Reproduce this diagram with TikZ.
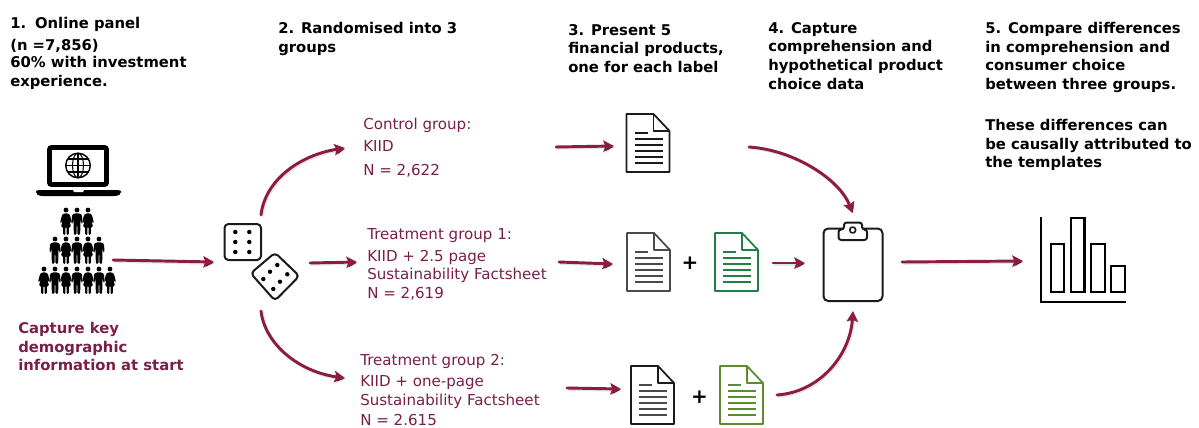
\documentclass[tikz,border=0pt]{standalone}
\usepackage{fontspec}
\setmainfont{DejaVu Sans}
\usetikzlibrary{arrows.meta}
\definecolor{arrowred}{HTML}{8C1C40}
\definecolor{labelred}{HTML}{7A2048}
\definecolor{docgreen}{HTML}{1F7F45}
\definecolor{docolive}{HTML}{5C8C30}
\definecolor{icongrey}{HTML}{1A1A1A}
\definecolor{docgrey}{HTML}{4A4A4A}
\tikzset{
  x=0.75pt,y=-0.75pt,
  heading/.style={anchor=north west,inner sep=0pt,align=left,text=black,font=\fontsize{11.1pt}{14pt}\selectfont\bfseries},
  grouplabel/.style={anchor=north west,inner sep=0pt,align=left,text=labelred,font=\fontsize{11.3pt}{14pt}\selectfont},
  demolabel/.style={heading,text=labelred},
  flow/.style={draw=arrowred,line width=2.2pt,line cap=round,-{Stealth[length=8pt,width=8.5pt,inset=1.5pt]},
    preaction={draw=black,draw opacity=.10,line width=2.6pt,-{Stealth[length=8pt,width=8.5pt,inset=1.5pt]},transform canvas={shift={(.8pt,-.8pt)}}}},
  iconline/.style={draw=icongrey,line width=1.5pt,line join=round},
  pics/docicon/.style 2 args={code={
    \draw[draw=#1,line width=1.3pt,line join=round,fill=white] (0,0) -- (27,0) -- (43,17) -- (43,58) -- (0,58) -- cycle;
    \draw[draw=#1,line width=1.3pt,line join=round] (27,0) -- (27,17) -- (43,17);
    \draw[draw=#2,line width=1.2pt] (8,19) -- (21,19);
    \foreach \ly in {25,31,37,43,49}{\draw[draw=#2,line width=1.2pt] (8,\ly) -- (36,\ly);}
  }},
  pics/manicon/.style={code={
    \fill[black] (0,0) circle[radius=2.4];
    \fill[black,rounded corners=1pt] (-5.5,13) -- (-5,5) -- (-3,3.4) -- (3,3.4) -- (5,5) -- (5.5,13) -- (4.2,13.4) -- (3.4,8) -- (3.2,25) -- (0.5,25) -- (0.4,15) -- (-0.4,15) -- (-0.5,25) -- (-3.2,25) -- (-3.4,8) -- (-4.2,13.4) -- cycle;
  }},
  pics/womanicon/.style={code={
    \fill[black] (0,0) circle[radius=2.4];
    \fill[black,rounded corners=.8pt] (-5.8,12.5) -- (-4,5) -- (-2,3.4) -- (2,3.4) -- (4,5) -- (5.8,12.5) -- (4.7,13) -- (3,8.5) -- (5,17) -- (2.8,17) -- (2.8,25) -- (0.6,25) -- (0.6,17) -- (-0.6,17) -- (-0.6,25) -- (-2.8,25) -- (-2.8,17) -- (-5,17) -- (-3,8.5) -- (-4.7,13) -- cycle;
  }},
  pip/.style={fill=black}
}
\begin{document}
\begin{tikzpicture}
\useasboundingbox[fill=white] (0,0) rectangle (1199,428);

% headings
\node[heading] (h1) at (10,17) {1.\hspace{0.6em}Online panel\\[2.5pt](n =7,856)\\[-1pt]60\% with investment\\[0pt]experience.};
\node[heading] (h2) at (278,22) {2. Randomised into 3\\groups};
\node[heading] (h3) at (568,24) {3. Present 5\\financial products,\\one for each label};
\node[heading] (h4) at (768,22) {4. Capture\\comprehension and\\hypothetical product\\choice data};
\node[heading] (h5) at (985,22) {5. Compare differences\\in comprehension and\\consumer choice\\between three groups.};
\node[heading] (h6) at (985,119) {These differences can\\be causally attributed to\\the templates};
\node[demolabel] (demo) at (18,322) {Capture key\\demographic\\information at start};

% group labels
\node[grouplabel] (g0) at (363,118) {Control group:\\[2.5pt]KIID\\[4pt]N = 2,622};
\node[grouplabel] (g1) at (367,228) {Treatment group 1:\\[2.5pt]KIID + 2.5 page\\Sustainability Factsheet\\N = 2,619};
\node[grouplabel] (g2) at (360,354) {Treatment group 2:\\[2pt]KIID + one-page\\Sustainability Factsheet\\[1pt]N = 2.615};

% laptop
\draw[black,line width=3.6pt,rounded corners=1.5pt] (49.5,147.5) rectangle (106.5,184.5);
\fill[black,rounded corners=2pt] (36,190) -- (121,190) -- (121,193) -- (118,196) -- (39,196) -- (36,193) -- cycle;
\fill[white] (73,190) -- (84,190) -- (83,192) -- (74,192) -- cycle;
\draw[black,line width=1.1pt] (78,165.5) circle[radius=12.3];
\draw[black,line width=.8pt] (78,165.5) ellipse[x radius=5.5,y radius=12.3];
\draw[black,line width=.8pt] (78,153.2) -- (78,177.8) (65.7,165.5) -- (90.3,165.5);
\draw[black,line width=.8pt] (67.5,159) -- (88.5,159) (67.5,172) -- (88.5,172);

% people
\pic at (66,210) {womanicon}; \pic at (77,210) {manicon}; \pic at (88,210) {womanicon};
\pic at (55,239) {manicon}; \pic at (66,239) {womanicon}; \pic at (77,239) {manicon}; \pic at (88,239) {womanicon}; \pic at (99,239) {manicon};
\pic at (44,269) {womanicon}; \pic at (55,269) {manicon}; \pic at (66,269) {womanicon}; \pic at (77,269) {manicon}; \pic at (88,269) {womanicon}; \pic at (99,269) {manicon}; \pic at (110,269) {womanicon};

% dice
\draw[iconline,rounded corners=3pt] (224.5,224) rectangle (261,260);
\foreach \px in {235.3,249.3}{\foreach \py in {232,242,252}{\fill[pip] (\px,\py) circle[radius=2.2];}}
\draw[iconline,rounded corners=3pt] (275,252.7) -- (299.3,276) -- (275,300.7) -- (250.7,273.3) -- cycle;
\foreach \px/\py in {277.3/265,270/271.7,263.3/279,287.3/274.3,280/281.7,273.3/289}{\fill[pip] (\px,\py) circle[radius=2.2];}

% documents
\pic at (626.5,114) {docicon={icongrey}{icongrey}};
\pic at (627,233) {docicon={docgrey}{docgrey}};
\pic at (715,233) {docicon={docgreen}{docgreen}};
\pic at (631,366) {docicon={icongrey}{docgrey}};
\pic at (720,366) {docicon={docolive}{docolive}};
\node[inner sep=0pt,font=\fontsize{15pt}{15pt}\selectfont\bfseries] (plus1) at (690,263) {+};
\node[inner sep=0pt,font=\fontsize{15pt}{15pt}\selectfont\bfseries] (plus2) at (699.5,397) {+};

% clipboard
\draw[iconline,rounded corners=3.5pt] (823.5,228.5) rectangle (882.5,301);
\draw[iconline,fill=white,rounded corners=2pt] (838.5,240) -- (838.5,229.5) -- (844,229.5) -- (844,222.5) -- (862,222.5) -- (862,229.5) -- (867,229.5) -- (867,240) -- cycle;
\draw[iconline,line width=1.2pt] (852.7,230) circle[radius=3];

% chart
\draw[black,line width=1.6pt] (1041,217) -- (1041,302) -- (1126,302);
\draw[black,line width=1.6pt] (1051,244) rectangle (1064,292);
\draw[black,line width=1.6pt] (1071,218) rectangle (1084.5,292);
\draw[black,line width=1.6pt] (1091,244) rectangle (1105,292);
\draw[black,line width=1.6pt] (1111,266) rectangle (1125,292);

% connector ends
\coordinate (peopleOut) at (113,260);
\coordinate (diceIn) at (214,262);
\coordinate (diceTop) at (261,215);
\coordinate (diceMid) at (310,263);
\coordinate (diceBot) at (261,311);
\coordinate (g0In) at (345,148);
\coordinate (g1In) at (357,262);
\coordinate (g2In) at (345,378);
\coordinate (g0Out) at (556,147);
\coordinate (g1Out) at (559,262);
\coordinate (g2Out) at (567,388);
\coordinate (d0In) at (614,146);
\coordinate (d1In) at (613,264);
\coordinate (d2In) at (621,389);
\coordinate (d0Out) at (749,147);
\coordinate (d1Out) at (773,263);
\coordinate (d2Out) at (777,395);
\coordinate (clipTop) at (852.5,213);
\coordinate (clipMid) at (805,263);
\coordinate (clipBot) at (853,311);
\coordinate (clipOut) at (902,262);
\coordinate (chartIn) at (1023,261);

% connectors
\draw[flow] (peopleOut) -- (diceIn);
\draw[flow] (diceTop) .. controls (265,180) and (300,155) .. (g0In);
\draw[flow] (diceMid) -- (g1In);
\draw[flow] (diceBot) .. controls (265,345) and (300,372) .. (g2In);
\draw[flow] (g0Out) -- (d0In);
\draw[flow] (g1Out) -- (d1In);
\draw[flow] (g2Out) -- (d2In);
\draw[flow] (d0Out) .. controls (795,150) and (840,180) .. (clipTop);
\draw[flow] (d1Out) -- (clipMid);
\draw[flow] (d2Out) .. controls (820,392) and (850,355) .. (clipBot);
\draw[flow] (clipOut) -- (chartIn);
\end{tikzpicture}
\end{document}
